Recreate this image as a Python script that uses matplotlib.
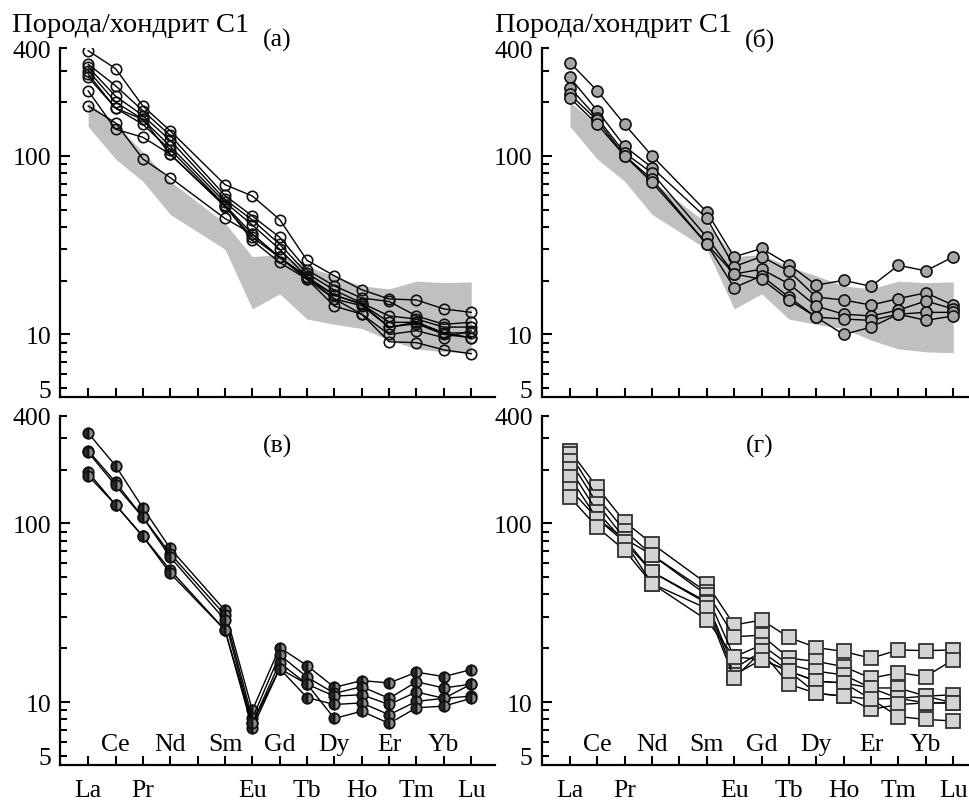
import numpy as np
import matplotlib
matplotlib.use("Agg")
import matplotlib.pyplot as plt
from matplotlib.ticker import FixedLocator, FuncFormatter, NullFormatter

plt.rcParams['font.family'] = ['Liberation Serif', 'DejaVu Serif']

# all REE slots incl. Pm (no data, no label)
slots = ["La", "Ce", "Pr", "Nd", "Pm", "Sm", "Eu", "Gd", "Tb", "Dy", "Ho", "Er", "Tm", "Yb", "Lu"]
ree = ["La", "Ce", "Pr", "Nd", "Sm", "Eu", "Gd", "Tb", "Dy", "Ho", "Er", "Tm", "Yb", "Lu"]
low_labels = ["La", "Pr", "Eu", "Tb", "Ho", "Tm", "Lu"]
mid_labels = ["Ce", "Nd", "Sm", "Gd", "Dy", "Er", "Yb"]

# grey field (a, б)
band_low = [146, 96, 72, 47, 30, 13.9, 16.9, 12.2, 11.4, 10.8, 9.3, 8.3, 8.0, 7.9]
band_high = [200, 150, 105, 72, 42, 27.3, 28, 24, 21.3, 18.7, 18.0, 19.9, 19.5, 19.7]

# (а) open circles
series_a = [
    [388, 308, 190, 138, 69, 59.6, 44, 26, 21.3, 17.8, 15.8, 15.6, 13.9, 13.3],
    [326, 247, 179, 130, 60, 46, 35, 23, 18.7, 16.0, 15.3, 12.7, 11.4, 11.7],
    [314, 216, 168, 122, 57, 43.7, 32, 22, 17.7, 15.0, 12.7, 12.2, 11.0, 11.0],
    [300, 200, 160, 113, 55, 41, 30, 21, 16.6, 14.8, 11.7, 11.7, 10.2, 10.2],
    [287, 185, 150, 108, 53, 36.5, 27, 20.4, 15.8, 14.5, 11.0, 11.5, 10.0, 9.6],
    [276, 185, 160, 102, 52.7, 33.6, 25.3, 20.4, 14.4, 13.0, 10.0, 10.5, 9.6, 10.5],
    [231, 141, 127, 102, 52, 35, 27, 21, 16.6, 14.8, 11.0, 11.7, 10.2, 9.6],
    [190, 153, 96, 75.5, 44.6, 36.5, 27, 21, 15.8, 13.0, 9.1, 9.0, 8.2, 7.8],
]

# (б) grey circles
series_b = [
    [333, 231, 150, 100, 48.5, 27.2, 30.3, 24.6, 18.9, 20.1, 18.6, 24.4, 22.7, 27.2],
    [275, 179, 113, 86, 44.7, 24.0, 27.3, 22.6, 16.2, 15.6, 14.6, 15.9, 17.1, 14.6],
    [241, 163, 104, 80, 35.1, 21.8, 23.2, 19.2, 14.4, 13.0, 12.7, 13.7, 15.4, 13.9],
    [221, 158, 100, 74, 32.1, 18.3, 21.3, 16.2, 12.5, 12.2, 12.0, 13.0, 13.3, 13.3],
    [211, 150, 100, 71, 32.1, 21.8, 20.4, 15.6, 12.5, 10.0, 11.0, 13.0, 12.0, 12.7],
]

# (в) half-filled circles
series_c = [
    [320, 210, 122, 72.4, 32.6, 9.0, 20.2, 16.0, 12.1, 13.2, 12.8, 14.7, 13.9, 15.2],
    [255, 170, 108, 67.7, 30.7, 8.1, 18.4, 13.8, 11.2, 12.2, 10.5, 13.0, 12.0, 12.6],
    [250, 163, 108, 64.8, 28.8, 7.6, 16.6, 12.6, 10.8, 11.0, 9.7, 11.4, 10.5, 12.6],
    [193, 127, 84.5, 54.8, 25.3, 7.15, 15.4, 10.6, 9.7, 9.9, 8.5, 10.1, 10.5, 10.8],
    [185, 127, 84.5, 52.5, 25.3, 7.6, 15.4, 12.6, 8.1, 8.9, 7.6, 9.3, 9.5, 10.5],
]

# (г) grey squares
series_d = [
    [255, 159, 102, 77, 46, 27, 28.8, 23, 20.2, 19.2, 17.6, 19.6, 19.4, 19.6],
    [245, 140, 91, 66.5, 41.4, 23.2, 23.7, 17.6, 16.9, 15.8, 13.6, 14.6, 13.9, 17.3],
    [224, 129, 82, 66.5, 39.7, 17.9, 20.9, 16.2, 14.9, 14.2, 12.0, 12.0, 10.8, 11.0],
    [202, 116, 78.6, 53.5, 36.4, 15.4, 19.2, 14.9, 13.1, 12.8, 10.4, 10.5, 9.9, 9.9],
    [181, 106, 82, 53.5, 35.7, 14.2, 17.3, 14.9, 13.1, 12.8, 12.0, 10.5, 10.8, 9.9],
    [156, 106, 78.6, 46, 33.4, 13.6, 19.2, 12.6, 11.2, 10.8, 9.1, 9.7, 9.9, 9.9],
    [140, 95, 70.7, 46, 28.8, 17.9, 17.3, 14.9, 11.2, 10.8, 10.4, 8.3, 8.0, 7.85],
]

FS = 18.5
W, H = 970, 803
fig = plt.figure(figsize=(W / 100, H / 100), dpi=100)


def px_axes(left, right, top, bottom):
    return fig.add_axes([left / W, 1 - bottom / H, (right - left) / W, (bottom - top) / H])


def setup(ax, xmax, bottom_row):
    ax.set_yscale("log")
    ax.set_ylim(4.45, 400)
    ax.set_xlim(-1.03, xmax)
    for s in ["top", "right"]:
        ax.spines[s].set_visible(False)
    for s in ["left", "bottom"]:
        ax.spines[s].set_linewidth(1.6)

    ax.yaxis.set_major_locator(FixedLocator([10, 100]))
    ax.yaxis.set_major_formatter(FuncFormatter(lambda v, p: "%d" % v))
    minors = [5, 6, 7, 8, 9, 20, 30, 40, 50, 60, 70, 80, 90, 200, 300, 400]
    ax.yaxis.set_minor_locator(FixedLocator(minors))
    ax.yaxis.set_minor_formatter(FuncFormatter(lambda v, p: "%d" % v if v in (5, 400) else ""))
    ax.tick_params(axis="y", which="major", direction="in", length=7.5, width=1.5,
                   labelsize=FS, pad=6.5)
    ax.tick_params(axis="y", which="minor", direction="in", length=5, width=1.5,
                   labelsize=FS, pad=6.5)

    pos = np.arange(len(slots))
    ax.set_xticks(pos)
    ax.tick_params(axis="x", direction="in", length=6.5, width=1.5, labelsize=FS, pad=10)
    if bottom_row:
        ax.set_xticklabels([s if s in low_labels else "" for s in slots])
        for name in mid_labels:
            ax.text(slots.index(name), 0.06, name, transform=ax.get_xaxis_transform(),
                    ha="center", va="center", fontsize=FS)
    else:
        ax.xaxis.set_major_formatter(NullFormatter())


def draw(ax, data, **mk):
    x = [slots.index(e) for e in ree]
    for row in data:
        ax.plot(x, row, color="black", lw=1.0, zorder=3, **mk)


def band(ax):
    x = [slots.index(e) for e in ree]
    ax.fill_between(x, band_low, band_high, color="#c0c0c0", lw=0, zorder=1)


ax_a = px_axes(60, 495, 49.3, 398.3)
ax_b = px_axes(541.7, 968, 49.3, 398.3)
ax_c = px_axes(60, 495, 416.7, 766)
ax_d = px_axes(541.7, 968, 416.7, 766)

setup(ax_a, 14.87, False)
setup(ax_b, 14.54, False)
setup(ax_c, 14.87, True)
setup(ax_d, 14.54, True)

band(ax_a)
band(ax_b)

draw(ax_a, series_a, marker="o", ms=7.5, mfc="none", mec="#111111", mew=1.2)
draw(ax_b, series_b, marker="o", ms=8, mfc="#a6a6a6", mec="#111111", mew=1.2)
draw(ax_c, series_c, marker="o", ms=7.5, fillstyle="left", mfc="#2a2a2a",
     markerfacecoloralt="#8a8a8a", mec="#111111", mew=1.3)
draw(ax_d, series_d, marker="s", ms=9.5, mfc="#d4d4d4", mec="#333333", mew=1.3)

fig.text(12 / W, 1 - 25 / H, "Порода/хондрит С1", fontsize=20.5, ha="left", va="center")
fig.text(495 / W, 1 - 25 / H, "Порода/хондрит С1", fontsize=20.5, ha="left", va="center")
fig.text(277 / W, 1 - 40 / H, "(а)", fontsize=FS, ha="center", va="center")
fig.text(760 / W, 1 - 40 / H, "(б)", fontsize=FS, ha="center", va="center")
fig.text(278 / W, 1 - 446 / H, "(в)", fontsize=FS, ha="center", va="center")
fig.text(760 / W, 1 - 446 / H, "(г)", fontsize=FS, ha="center", va="center")

fig.savefig("out.png", dpi=100)
